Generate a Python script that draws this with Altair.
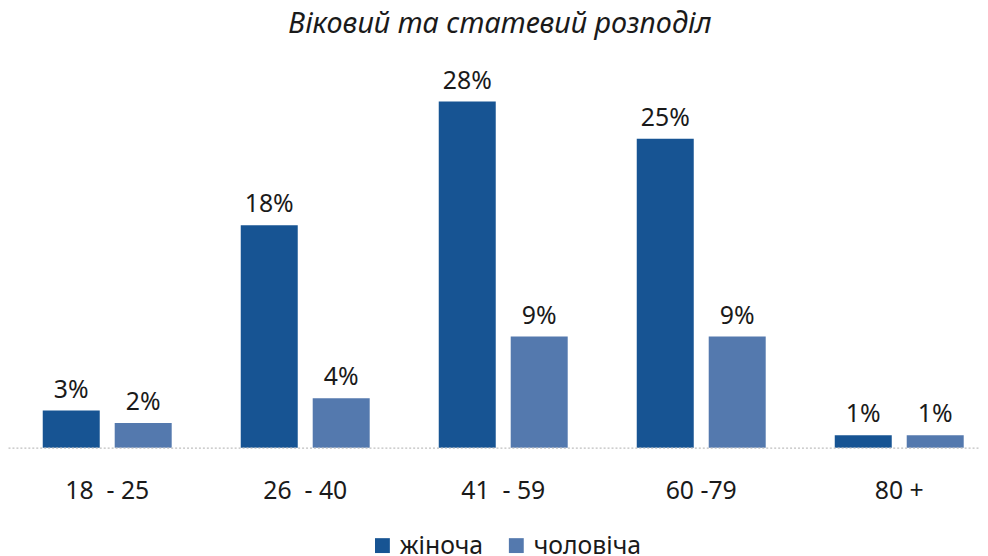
import altair as alt
import pandas as pd

ages = ["18\u00a0\u00a0- 25", "26\u00a0\u00a0- 40", "41\u00a0\u00a0- 59", "60 -79", "80 +"]
female = [3, 18, 28, 25, 1]
male = [2, 4, 9, 9, 1]
series = ["жіноча", "чоловіча"]
colors = ["#175493", "#5479ae"]

rows = []
for a, f, m in zip(ages, female, male):
    rows.append({"age": a, "sex": series[0], "v": f, "label": f"{f}%"})
    rows.append({"age": a, "sex": series[1], "v": m, "label": f"{m}%"})
df = pd.DataFrame(rows)

FONT = "Noto Sans"
FS = 25

x = alt.X(
    "age:N", sort=ages,
    scale=alt.Scale(paddingInner=0.3, paddingOuter=0.1045, align=0.723),
    axis=alt.Axis(title=None, labelAngle=0, ticks=False, labelPadding=31,
                  labelFontSize=FS, labelColor="#1a1a1a", labelFont=FONT,
                  domainDash=[2, 2], domainColor="#bfbfbf", domainWidth=1.2,
                  zindex=1),
)
xo = alt.XOffset("sex:N", sort=series,
                 scale=alt.Scale(paddingInner=0.208, paddingOuter=0.067))
y = alt.Y("v:Q", scale=alt.Scale(domain=[0, 31.3]), axis=None)

base = alt.Chart(df)
bars = base.mark_bar().encode(
    x=x, xOffset=xo, y=y,
    color=alt.Color("sex:N", sort=series,
                    scale=alt.Scale(domain=series, range=colors),
                    legend=alt.Legend(orient="none", legendX=365, legendY=476,
                                      direction="horizontal", title=None,
                                      symbolType="square", symbolSize=225,
                                      symbolStrokeWidth=0, labelFontSize=FS,
                                      labelFont=FONT, labelColor="#1a1a1a",
                                      columnPadding=20, labelOffset=5)),
)
text = base.mark_text(baseline="alphabetic", dy=-13, fontSize=FS, font=FONT,
                      color="#1a1a1a").encode(
    x=x, xOffset=xo, y=y, text="label:N"
)

chart = alt.layer(bars, text).properties(
    width=980, height=390, padding=0,
    title=alt.TitleParams("Віковий та статевий розподіл", fontSize=29,
                          fontStyle="italic", fontWeight="normal", font=FONT,
                          color="#1a1a1a", anchor="middle", offset=25, dx=6, dy=3),
).configure_view(stroke=None)

chart.save("out.html", embed_options={"renderer": "svg", "actions": False})
